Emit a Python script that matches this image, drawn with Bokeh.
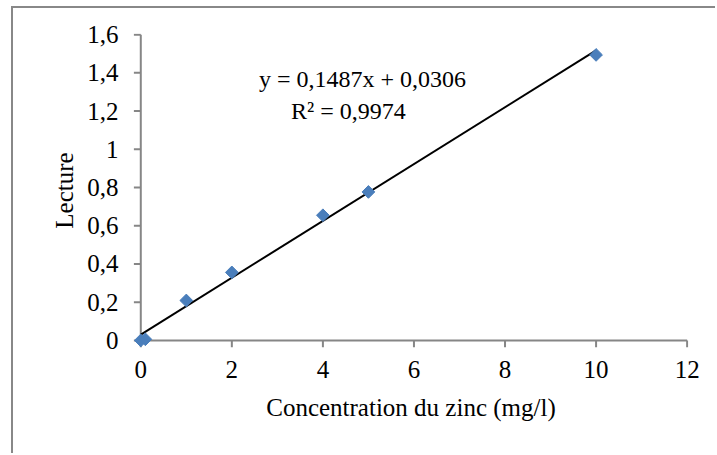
from bokeh.plotting import figure
from bokeh.models import Range1d, FixedTicker, Label, ColumnDataSource
from bokeh.embed import file_html
from bokeh.resources import INLINE
import math

# data
conc = [0, 0.1, 1, 2, 4, 5, 10]
lecture = [0, 0.006, 0.209, 0.356, 0.655, 0.777, 1.494]

# trend line coefficients (shown on chart)
slope = 0.1487
intercept = 0.0306

x_ticks = [0, 2, 4, 6, 8, 10, 12]
x_tick_labels = ["0", "2", "4", "6", "8", "10", "12"]
y_ticks = [0, 0.2, 0.4, 0.6, 0.8, 1, 1.2, 1.4, 1.6]
y_tick_labels = ["0", "0,2", "0,4", "0,6", "0,8", "1", "1,2", "1,4", "1,6"]

x_title = "Concentration du zinc (mg/l)"
y_title = "Lecture"
eq_text = "y = 0,1487x + 0,0306"
r2_text = "R\u00b2 = 0,9974"

FONT = "Liberation Serif"
AXIS_COLOR = "#868686"

# layout (pixels)
W, H = 704, 447
BL, BR, BT, BB = 120, 29, 25, 108
TICK = 7
x0, x1 = -0.16, 12.03
y0, y1 = -0.037, 1.606
fw, fh = W - BL - BR, H - BT - BB
dx = TICK * (x1 - x0) / fw   # tick length in x data units
dy = TICK * (y1 - y0) / fh   # tick length in y data units

p = figure(width=W, height=H, output_backend="svg", toolbar_location=None,
           x_range=Range1d(x0, x1), y_range=Range1d(y0, y1),
           min_border_left=BL, min_border_right=BR, min_border_top=BT,
           min_border_bottom=BB)
p.margin = (6, 0, 0, 11)
p.styles = {"border-left": "2px solid #888888", "border-top": "2px solid #888888"}
p.outline_line_color = None
p.xgrid.visible = False
p.ygrid.visible = False
p.background_fill_color = "white"
p.border_fill_color = "white"

for ax in (p.xaxis[0], p.yaxis[0]):
    ax.axis_line_color = None
    ax.major_tick_line_color = None
    ax.major_tick_out = 0
    ax.major_tick_in = 0
    ax.minor_tick_line_color = None
    ax.major_label_text_font = FONT
    ax.major_label_text_font_size = "25px"
    ax.major_label_text_color = "black"
    ax.axis_label_text_font = FONT
    ax.axis_label_text_font_size = "25px"
    ax.axis_label_text_font_style = "normal"
    ax.axis_label_text_color = "black"

p.xaxis.ticker = FixedTicker(ticks=x_ticks)
p.xaxis.major_label_overrides = {t: l for t, l in zip(x_ticks, x_tick_labels)}
p.yaxis.ticker = FixedTicker(ticks=y_ticks)
p.yaxis.major_label_overrides = {t: l for t, l in zip(y_ticks, y_tick_labels)}
p.xaxis.axis_label = x_title
p.yaxis.axis_label = y_title
p.xaxis.major_label_standoff = 13
p.yaxis.major_label_standoff = 15
p.xaxis.axis_label_standoff = 13
p.yaxis.axis_label_standoff = 6

# axis lines at zero, with outward ticks
p.segment(x0=[x_ticks[0], x_ticks[0]], y0=[y_ticks[0], y_ticks[0]],
          x1=[x_ticks[-1], x_ticks[0]], y1=[y_ticks[0], y_ticks[-1]],
          line_color=AXIS_COLOR, line_width=2)
p.segment(x0=x_ticks, y0=[0] * len(x_ticks), x1=x_ticks, y1=[-dy] * len(x_ticks),
          line_color=AXIS_COLOR, line_width=2)
p.segment(x0=[0] * len(y_ticks), y0=y_ticks, x1=[-dx] * len(y_ticks), y1=y_ticks,
          line_color=AXIS_COLOR, line_width=2)

# trend line from coefficients
tx = [min(conc), max(conc)]
ty = [slope * v + intercept for v in tx]
p.line(tx, ty, line_color="black", line_width=2)

src = ColumnDataSource(data=dict(x=conc, y=lecture))
p.scatter("x", "y", source=src, marker="square", size=9, angle=math.pi / 4,
          fill_color="#4A7EBB", line_color="#4A7EBB")

p.add_layout(Label(x=4.87, y=1.37, text=eq_text, text_align="center",
                   text_baseline="middle", text_font=FONT, text_font_size="24px",
                   text_color="black"))
p.add_layout(Label(x=4.56, y=1.20, text=r2_text, text_align="center",
                   text_baseline="middle", text_font=FONT, text_font_size="24px",
                   text_color="black"))

open("out.html", "w").write(file_html(p, INLINE))
